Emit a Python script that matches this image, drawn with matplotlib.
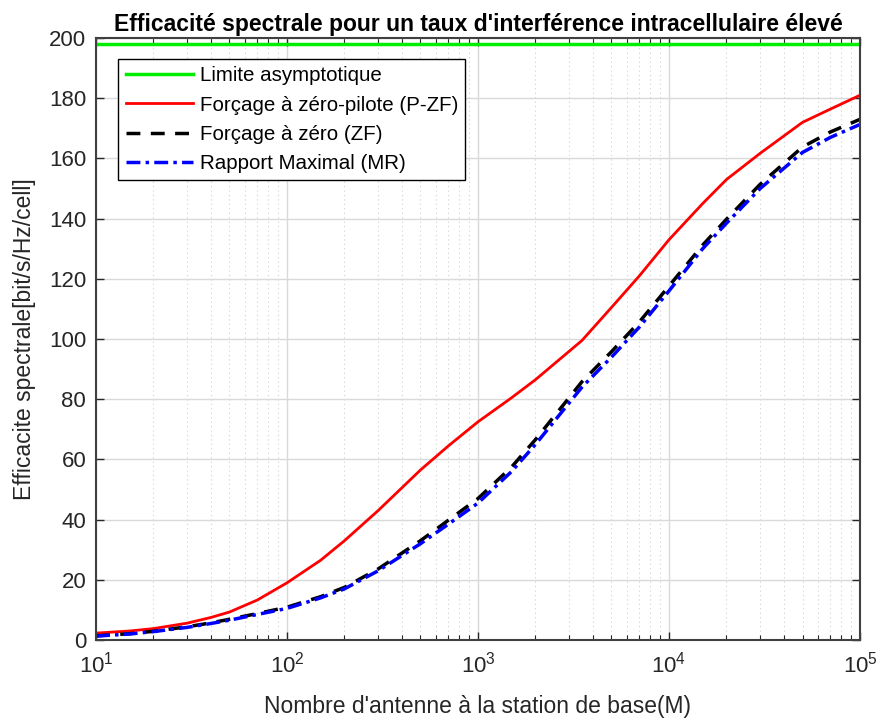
import numpy as np
import matplotlib
matplotlib.use("Agg")
import matplotlib.pyplot as plt
from matplotlib.ticker import LogLocator, LogFormatterMathtext, NullFormatter, MultipleLocator

plt.rcParams['font.family'] = ['Liberation Sans', 'DejaVu Sans']
plt.rcParams['mathtext.default'] = 'regular'

M = [10, 15, 20, 30, 40, 50, 70, 100, 150, 200, 300, 500, 700, 1000, 1500, 2000,
     3500, 5000, 7000, 10000, 15000, 20000, 30000, 50000, 70000, 100000]
limite = 198.0
pzf = [2.3, 3.0, 3.8, 5.6, 7.5, 9.3, 13.3, 19.0, 26.5, 33.0, 43.0, 56.5, 64.5, 72.5, 80.5, 86.5,
       99.5, 110.5, 121.0, 133.0, 145.0, 153.0, 161.7, 172.0, 176.4, 181.0]
zf = [1.4, 2.1, 2.9, 4.4, 5.7, 6.9, 8.8, 10.9, 14.4, 17.5, 23.6, 33.0, 39.8, 47.0, 57.5, 66.6,
      85.8, 95.8, 105.7, 117.6, 131.2, 139.8, 151.4, 163.8, 168.8, 173.0]
mr = [1.3, 2.0, 2.8, 4.2, 5.5, 6.6, 8.5, 10.5, 14.0, 17.0, 23.0, 32.0, 38.5, 45.5, 56.0, 65.0,
      84.0, 94.0, 104.0, 116.0, 130.0, 138.5, 150.0, 162.0, 167.0, 171.3]

title = "Efficacité spectrale pour un taux d'interférence intracellulaire élevé"
xlabel = "Nombre d'antenne à la station de base(M)"
ylabel = "Efficacite spectrale[bit/s/Hz/cell]"
labels = ["Limite asymptotique", "Forçage à zéro-pilote (P-ZF)", "Forçage à zéro (ZF)", "Rapport Maximal (MR)"]

fig = plt.figure(figsize=(8.78, 7.18), dpi=100)
ax = fig.add_axes([0.1093, 0.1086, 0.8702, 0.8384])

ax.plot([M[0], M[-1]], [limite, limite], color='#00ee00', lw=2.5, label=labels[0])
ax.plot(M, pzf, color='#ff0000', lw=2.0, label=labels[1])
ax.plot(M, zf, color='black', lw=2.5, ls=(0, (4, 3)), label=labels[2])
ax.plot(M, mr, color='#0000ff', lw=2.5, ls=(0, (4, 1.5, 1, 1.5)), label=labels[3])

ax.set_xscale('log')
ax.set_xlim(10, 1e5)
ax.set_ylim(0, 200)
ax.yaxis.set_major_locator(MultipleLocator(20))
ax.xaxis.set_major_locator(LogLocator(base=10, numticks=10))
ax.xaxis.set_minor_locator(LogLocator(base=10, subs=np.arange(2, 10), numticks=20))
ax.xaxis.set_major_formatter(LogFormatterMathtext())
ax.xaxis.set_minor_formatter(NullFormatter())

ax.grid(True, which='major', color='#d9d9d9', lw=1.0, ls='-')
ax.grid(True, which='minor', axis='x', color='#d0d0d0', lw=0.8, ls=(0, (1, 3)))
ax.set_axisbelow(True)

ax.tick_params(which='both', direction='in', top=True, right=True, colors='#262626', labelsize=16)
ax.tick_params(which='major', length=6, width=1)
ax.tick_params(axis='x', which='major', pad=8)
ax.tick_params(axis='y', which='major', pad=7)
ax.tick_params(which='minor', length=3.5, width=0.8)
for s in ax.spines.values():
    s.set_color('#404040')
    s.set_linewidth(1.5)

ax.set_title(title, fontsize=16.5, fontweight='bold', pad=5)
ax.set_xlabel(xlabel, fontsize=16.5, color='#262626', labelpad=13)
ax.set_ylabel(ylabel, fontsize=16.5, color='#262626', labelpad=9)

leg = ax.legend(loc='upper left', bbox_to_anchor=(0.016, 0.982), fontsize=14.8, frameon=True,
                fancybox=False, edgecolor='black', framealpha=1, handlelength=3.3,
                borderpad=0.35, labelspacing=0.5, handletextpad=0.3)
leg.get_frame().set_linewidth(1.0)

fig.savefig('out.png', dpi=100)
